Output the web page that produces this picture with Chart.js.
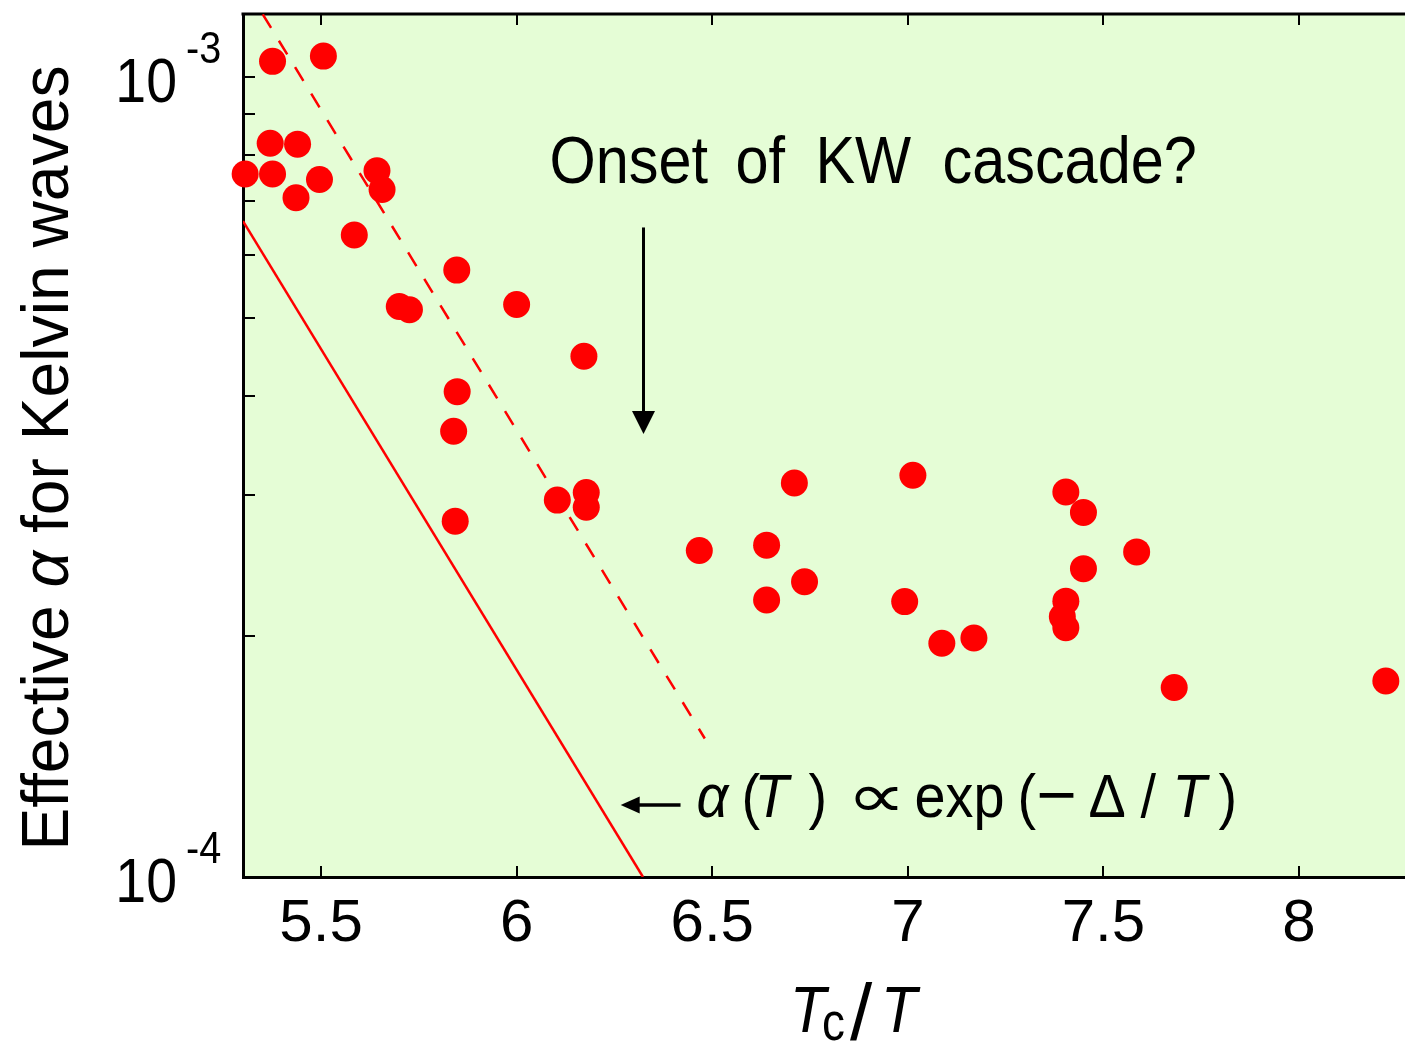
<!DOCTYPE html>
<html>
<head>
<meta charset="utf-8">
<script src="https://cdn.jsdelivr.net/npm/chart.js@4/dist/chart.umd.min.js"></script>
<style>
html,body{margin:0;padding:0;background:#ffffff;overflow:hidden}
#wrap{width:1405px;height:1044px;position:relative}
canvas{display:block}
</style>
</head>
<body>
<div id="wrap"><canvas id="c" width="1405" height="1044"></canvas></div>
<script>
// ---- data ----
const tcOverT = [5.306, 5.376, 5.506, 5.370, 5.440, 5.376, 5.496, 5.436, 5.643, 5.656,
                 5.585, 5.847, 5.700, 5.726, 6.000, 6.172, 5.848, 5.839, 5.843, 6.104,
                 6.178, 6.178, 6.467, 6.639, 6.639, 6.710, 6.736, 6.992, 7.013, 7.087,
                 7.169, 7.404, 7.449, 7.585, 7.449, 7.404, 7.395, 7.404, 7.681, 8.222];
const alphaEff = [7.57e-4, 1.047e-3, 1.063e-3, 8.27e-4, 8.25e-4, 7.57e-4, 7.45e-4, 7.07e-4, 7.64e-4, 7.24e-4,
                  6.35e-4, 5.74e-4, 5.17e-4, 5.12e-4, 5.20e-4, 4.48e-4, 4.045e-4, 3.61e-4, 2.786e-4, 2.96e-4,
                  3.026e-4, 2.90e-4, 2.56e-4, 2.60e-4, 2.22e-4, 3.11e-4, 2.34e-4, 2.21e-4, 3.18e-4, 1.96e-4,
                  1.99e-4, 3.03e-4, 2.857e-4, 2.55e-4, 2.43e-4, 2.213e-4, 2.115e-4, 2.05e-4, 1.726e-4, 1.758e-4];
// exp(-Delta/T) guide lines (end points)
const solidFitX = [5.3005, 6.323];
const solidFitY = [6.61e-4, 1.0e-4];
const dashedFitX = [5.351, 6.481];
const dashedFitY = [1.199e-3, 1.49e-4];
// axes
const xRange = [5.3005, 8.271];
const yRange = [1e-4, 1.2e-3];
const xTickValues = [5.5, 6, 6.5, 7, 7.5, 8];
const xTickLabels = ['5.5', '6', '6.5', '7', '7.5', '8'];
const yTickValues = [1e-4, 2e-4, 3e-4, 4e-4, 5e-4, 6e-4, 7e-4, 8e-4, 9e-4, 1e-3];
const yMajorValues = [1e-4, 1e-3];
const yMajorBase = ['10', '10'];
const yMajorExp = ['-4', '-3'];
// annotation anchors (data coordinates)
const onsetTextAt = [6.0916, 7.37e-4];
const onsetArrowX = [6.3243];
const onsetArrowY = [6.49e-4, 3.58e-4];
const fitTextAt = [6.465, 1.189e-4];
const fitArrowX = [6.419, 6.266];
const fitArrowY = [1.230e-4];

const RED = '#ff0000';
const BG = '#e5fdd6';
const FAM = "'Liberation Sans', 'DejaVu Sans', Arial, sans-serif";
const REG = s => `${s}px ${FAM}`;
const IT = s => `italic ${s}px ${FAM}`;

function txt(ctx, s, x, y, font, sx, align) {
  ctx.save();
  ctx.translate(x, y);
  ctx.scale(sx, 1);
  ctx.font = font;
  ctx.textAlign = align || 'left';
  ctx.textBaseline = 'alphabetic';
  ctx.fillStyle = '#000';
  ctx.fillText(s, 0, 0);
  ctx.restore();
}

const decor = {
  id: 'decor',
  beforeDraw(chart) {
    const {ctx, chartArea: a} = chart;
    ctx.save();
    ctx.fillStyle = BG;
    ctx.fillRect(a.left, a.top, a.right - a.left, a.bottom - a.top);
    ctx.restore();
  },
  beforeDatasetsDraw(chart) {
    const {ctx, chartArea: a, scales: {x, y}} = chart;
    ctx.save();
    ctx.strokeStyle = '#000';
    ctx.lineWidth = 3;
    ctx.beginPath();
    ctx.moveTo(a.left - 1.5, a.top);
    ctx.lineTo(a.right, a.top);
    ctx.stroke();
    ctx.lineWidth = 2;
    x.ticks.forEach(t => {
      const px = Math.round(x.getPixelForValue(t.value));
      ctx.beginPath();
      ctx.moveTo(px, a.bottom); ctx.lineTo(px, a.bottom - 11);
      ctx.moveTo(px, a.top); ctx.lineTo(px, a.top + 11);
      ctx.stroke();
    });
    y.ticks.forEach(t => {
      const py = Math.round(y.getPixelForValue(t.value));
      ctx.beginPath();
      ctx.moveTo(a.left, py); ctx.lineTo(a.left + 12, py);
      ctx.stroke();
    });
    ctx.restore();
  },
  afterDraw(chart) {
    const {ctx, chartArea: a, scales: {x, y}} = chart;
    // y tick labels 10^n
    yMajorValues.forEach((v, i) => {
      const py = y.getPixelForValue(v);
      txt(ctx, yMajorBase[i], 177, py + 24.7, REG(63), 0.88, 'right');
      txt(ctx, yMajorExp[i], 186, py - 14, REG(44), 0.9, 'left');
    });
    // y axis title
    ctx.save();
    ctx.translate(68, 458);
    ctx.rotate(-Math.PI / 2);
    const parts = [['Effective ', REG(66)], ['\u03b1', IT(66)], [' for Kelvin waves', REG(66)]];
    let total = 0;
    parts.forEach(p => { ctx.font = p[1]; total += ctx.measureText(p[0]).width; });
    ctx.scale(785 / total, 1);
    ctx.fillStyle = '#000';
    ctx.textAlign = 'left';
    ctx.textBaseline = 'alphabetic';
    let cx = -total / 2;
    parts.forEach(p => { ctx.font = p[1]; ctx.fillText(p[0], cx, 0); cx += ctx.measureText(p[0]).width; });
    ctx.restore();
    // x axis title  T_c / T
    txt(ctx, 'T', 790, 1032, IT(64), 0.92, 'left');
    txt(ctx, 'c', 822, 1040, REG(54), 0.85, 'left');
    txt(ctx, '/', 850, 1040, REG(80), 1, 'left');
    txt(ctx, 'T', 881, 1032, IT(64), 0.92, 'left');

    // Onset annotation
    const ox = x.getPixelForValue(onsetTextAt[0]);
    const oy = y.getPixelForValue(onsetTextAt[1]);
    [['Onset', 0], ['of', 186], ['KW', 266], ['cascade?', 393]].forEach(w => {
      txt(ctx, w[0], ox + w[1] - 3, oy, REG(66), 0.9, 'left');
    });
    // down arrow
    const axp = x.getPixelForValue(onsetArrowX[0]);
    const ay1 = y.getPixelForValue(onsetArrowY[0]);
    const ay2 = y.getPixelForValue(onsetArrowY[1]);
    ctx.save();
    ctx.strokeStyle = '#000';
    ctx.fillStyle = '#000';
    ctx.lineWidth = 3;
    ctx.beginPath(); ctx.moveTo(axp, ay1); ctx.lineTo(axp, ay2 - 18); ctx.stroke();
    ctx.beginPath(); ctx.moveTo(axp, ay2); ctx.lineTo(axp - 11.5, ay2 - 23); ctx.lineTo(axp + 11.5, ay2 - 23); ctx.closePath(); ctx.fill();
    // left arrow for fit line
    const lx1 = x.getPixelForValue(fitArrowX[0]);
    const lx2 = x.getPixelForValue(fitArrowX[1]);
    const ly = y.getPixelForValue(fitArrowY[0]);
    ctx.lineWidth = 3.5;
    ctx.beginPath(); ctx.moveTo(lx1, ly); ctx.lineTo(lx2 + 14, ly); ctx.stroke();
    ctx.beginPath(); ctx.moveTo(lx2, ly); ctx.lineTo(lx2 + 19, ly - 8.5); ctx.lineTo(lx2 + 19, ly + 8.5); ctx.closePath(); ctx.fill();
    ctx.restore();
    // alpha(T) ∝ exp(−Δ/T)
    const fx = x.getPixelForValue(fitTextAt[0]);
    const fy = y.getPixelForValue(fitTextAt[1]);
    const pieces = [
      ['\u03b1', 0, IT(62), 0.9], ['(', 45, REG(62), 0.9], ['T', 58, IT(62), 0.9], [')', 112, REG(62), 0.9],
      ['\u221d', 150, REG(62), 1.35], ['exp', 218, REG(62), 0.9], ['(', 321, REG(62), 0.9], ['\u2212', 340, REG(66), 1.05],
      ['\u0394', 392, REG(62), 0.9], ['/', 444, REG(62), 0.9], ['T', 476, IT(62), 0.9], [')', 522, REG(62), 0.9]
    ];
    pieces.forEach(p => txt(ctx, p[0], fx + p[1] - 2, fy, p[2], p[3], 'left'));
  }
};

const ctx = document.getElementById('c').getContext('2d');
new Chart(ctx, {
  type: 'scatter',
  data: {
    datasets: [
      {
        label: 'effective alpha',
        data: tcOverT.map((v, i) => ({x: v, y: alphaEff[i]})),
        backgroundColor: RED,
        borderWidth: 0,
        pointRadius: 13.5,
        pointHoverRadius: 13.5,
        clip: false
      },
      {
        label: 'fit solid',
        data: solidFitX.map((v, i) => ({x: v, y: solidFitY[i]})),
        showLine: true,
        borderColor: RED,
        borderWidth: 2.5,
        pointRadius: 0,
        fill: false
      },
      {
        label: 'fit dashed',
        data: dashedFitX.map((v, i) => ({x: v, y: dashedFitY[i]})),
        showLine: true,
        borderColor: RED,
        borderWidth: 2.5,
        borderDash: [16, 15],
        pointRadius: 0,
        fill: false
      }
    ]
  },
  options: {
    responsive: false,
    animation: false,
    devicePixelRatio: 1,
    events: [],
    layout: {autoPadding: false, padding: {top: 14, left: 0, right: 0, bottom: 0}},
    plugins: {legend: {display: false}, tooltip: {enabled: false}, title: {display: false}},
    scales: {
      x: {
        type: 'linear',
        position: 'bottom',
        min: xRange[0],
        max: xRange[1],
        afterBuildTicks: s => { s.ticks = xTickValues.map(v => ({value: v})); },
        afterFit: s => { s.height = 167; s.paddingLeft = 0; s.paddingRight = 0; },
        ticks: {
          callback: (v, i) => xTickLabels[i],
          font: {family: FAM, size: 60},
          color: '#000',
          padding: 3,
          maxRotation: 0,
          autoSkip: false
        },
        grid: {display: false},
        border: {display: true, color: '#000', width: 3}
      },
      y: {
        type: 'logarithmic',
        position: 'left',
        min: yRange[0],
        max: yRange[1],
        afterBuildTicks: s => { s.ticks = yTickValues.map(v => ({value: v})); },
        afterFit: s => { s.width = 243; s.paddingTop = 0; s.paddingBottom = 0; },
        ticks: {display: false},
        grid: {display: false},
        border: {display: true, color: '#000', width: 3}
      }
    }
  },
  plugins: [decor]
});
</script>
</body>
</html>
